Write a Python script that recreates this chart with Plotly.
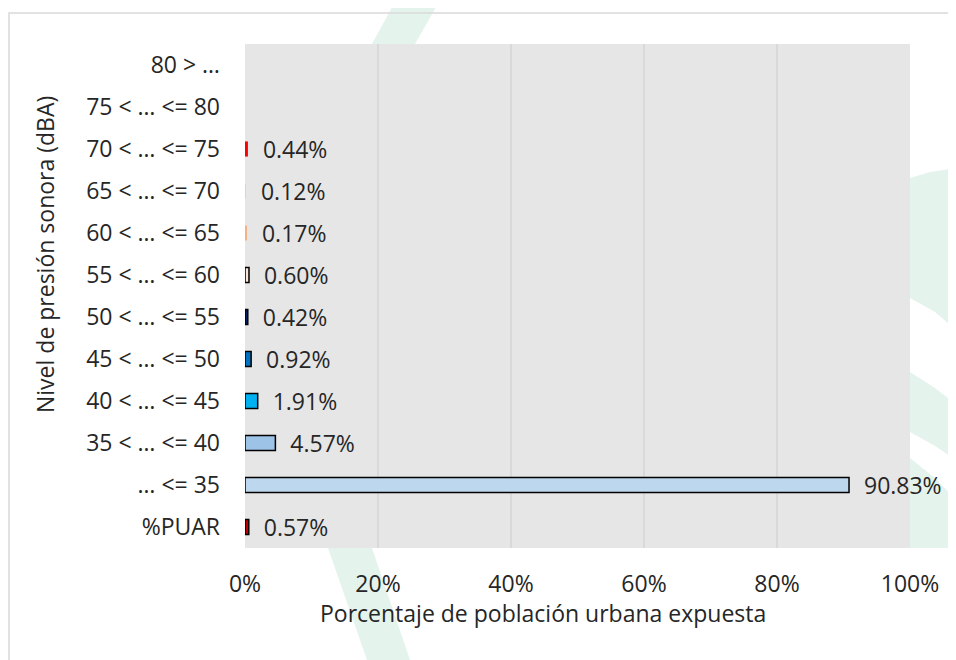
import plotly.graph_objects as go

categories = ["%PUAR", "… <= 35", "35 < … <= 40", "40 < … <= 45", "45 < … <= 50",
              "50 < … <= 55", "55 < … <= 60", "60 < … <= 65", "65 < … <= 70",
              "70 < … <= 75", "75 < … <= 80", "80 > …"]
values = [0.57, 90.83, 4.57, 1.91, 0.92, 0.42, 0.60, 0.17, 0.12, 0.44, 0.0, 0.0]
bar_colors = ["#C00000", "#BDD7EE", "#9DC3E6", "#00B0F0", "#0070C0", "#002060",
              "#FBE5D6", "#F4B183", "#F8CBAD", "#FF0000", "#C00000", "#7030A0"]
border_widths = [1.5, 1.5, 1.5, 1.5, 1.5, 1.5, 1.5, 0, 0, 0, 0, 0]
x_ticks = [0, 20, 40, 60, 80, 100]
x_tick_labels = ["0%", "20%", "40%", "60%", "80%", "100%"]
x_title = "Porcentaje de población urbana expuesta"
y_title = "Nivel de presión sonora (dBA)"

OFF = 8  # page body margin
W, H = 956 - OFF, 660 - OFF
L, R, T, B = 245 - OFF, 910 - OFF, 44 - OFF, 548 - OFF
FONT = "Open Sans"
FS = 23
TXT = "#262626"

def px(x):
    return (x - OFF - L) / (R - L)

def py(y):
    return (B - (y - OFF)) / (B - T)

labels = ["  {:.2f}%".format(v) if v > 0 else "" for v in values]

fig = go.Figure(go.Bar(
    x=values, y=categories, orientation="h",
    marker=dict(color=bar_colors, line=dict(color="#000000", width=border_widths)),
    width=0.36,
    text=labels, textposition="outside", cliponaxis=False, constraintext="none",
    textfont=dict(size=FS, color=TXT, family=FONT),
    hoverinfo="skip",
))

wm = "#E4F4EC"
def poly(pts):
    d = "M " + " L ".join("{},{}".format(px(a), py(b)) for a, b in pts) + " Z"
    return dict(type="path", xref="paper", yref="paper", path=d,
                fillcolor=wm, line=dict(width=0), layer="below")

shapes = [
    poly([(396, 0), (440, 0), (415, 44), (372, 44)]),
    poly([(328, 548), (372, 548), (410, 660), (367, 660)]),
    poly([(910, 178), (930, 172), (956, 168), (956, 330), (935, 312), (910, 298)]),
    poly([(910, 372), (935, 388), (956, 404), (956, 460), (935, 446), (910, 432)]),
    poly([(910, 458), (935, 478), (956, 500), (956, 548), (910, 548)]),
    dict(type="rect", xref="paper", yref="paper", x0=px(9), x1=px(1000), y0=py(700), y1=py(13),
         line=dict(color="#D9D9D9", width=1.5), fillcolor="rgba(0,0,0,0)", layer="below"),
]

annotations = [
    dict(text=x_title, xref="paper", yref="paper", x=px(543), y=py(613),
         xanchor="center", yanchor="middle", showarrow=False,
         font=dict(size=FS, family=FONT, color=TXT)),
    dict(text=y_title, xref="paper", yref="paper", x=px(45), y=py(255),
         xanchor="center", yanchor="middle", showarrow=False, textangle=-90,
         font=dict(size=FS, family=FONT, color=TXT)),
]

fig.update_layout(
    width=W, height=H,
    margin=dict(l=L, r=W - R, t=T, b=H - B),
    paper_bgcolor="white", plot_bgcolor="#E7E6E6",
    font=dict(family=FONT, size=FS, color=TXT),
    showlegend=False,
    shapes=shapes, annotations=annotations,
    xaxis=dict(range=[0, 100], tickmode="array", tickvals=x_ticks, ticktext=x_tick_labels,
               showgrid=True, gridcolor="#D9D9D9", gridwidth=1.5,
               zeroline=False, showline=False, ticks="",
               ticklabelstandoff=20,
               tickfont=dict(size=FS, family=FONT, color=TXT)),
    yaxis=dict(categoryorder="array", categoryarray=categories,
               showgrid=False, zeroline=False, showline=False, ticks="",
               ticklabelstandoff=24,
               tickfont=dict(size=FS, family=FONT, color=TXT)),
)

fig.write_html("out.html")
